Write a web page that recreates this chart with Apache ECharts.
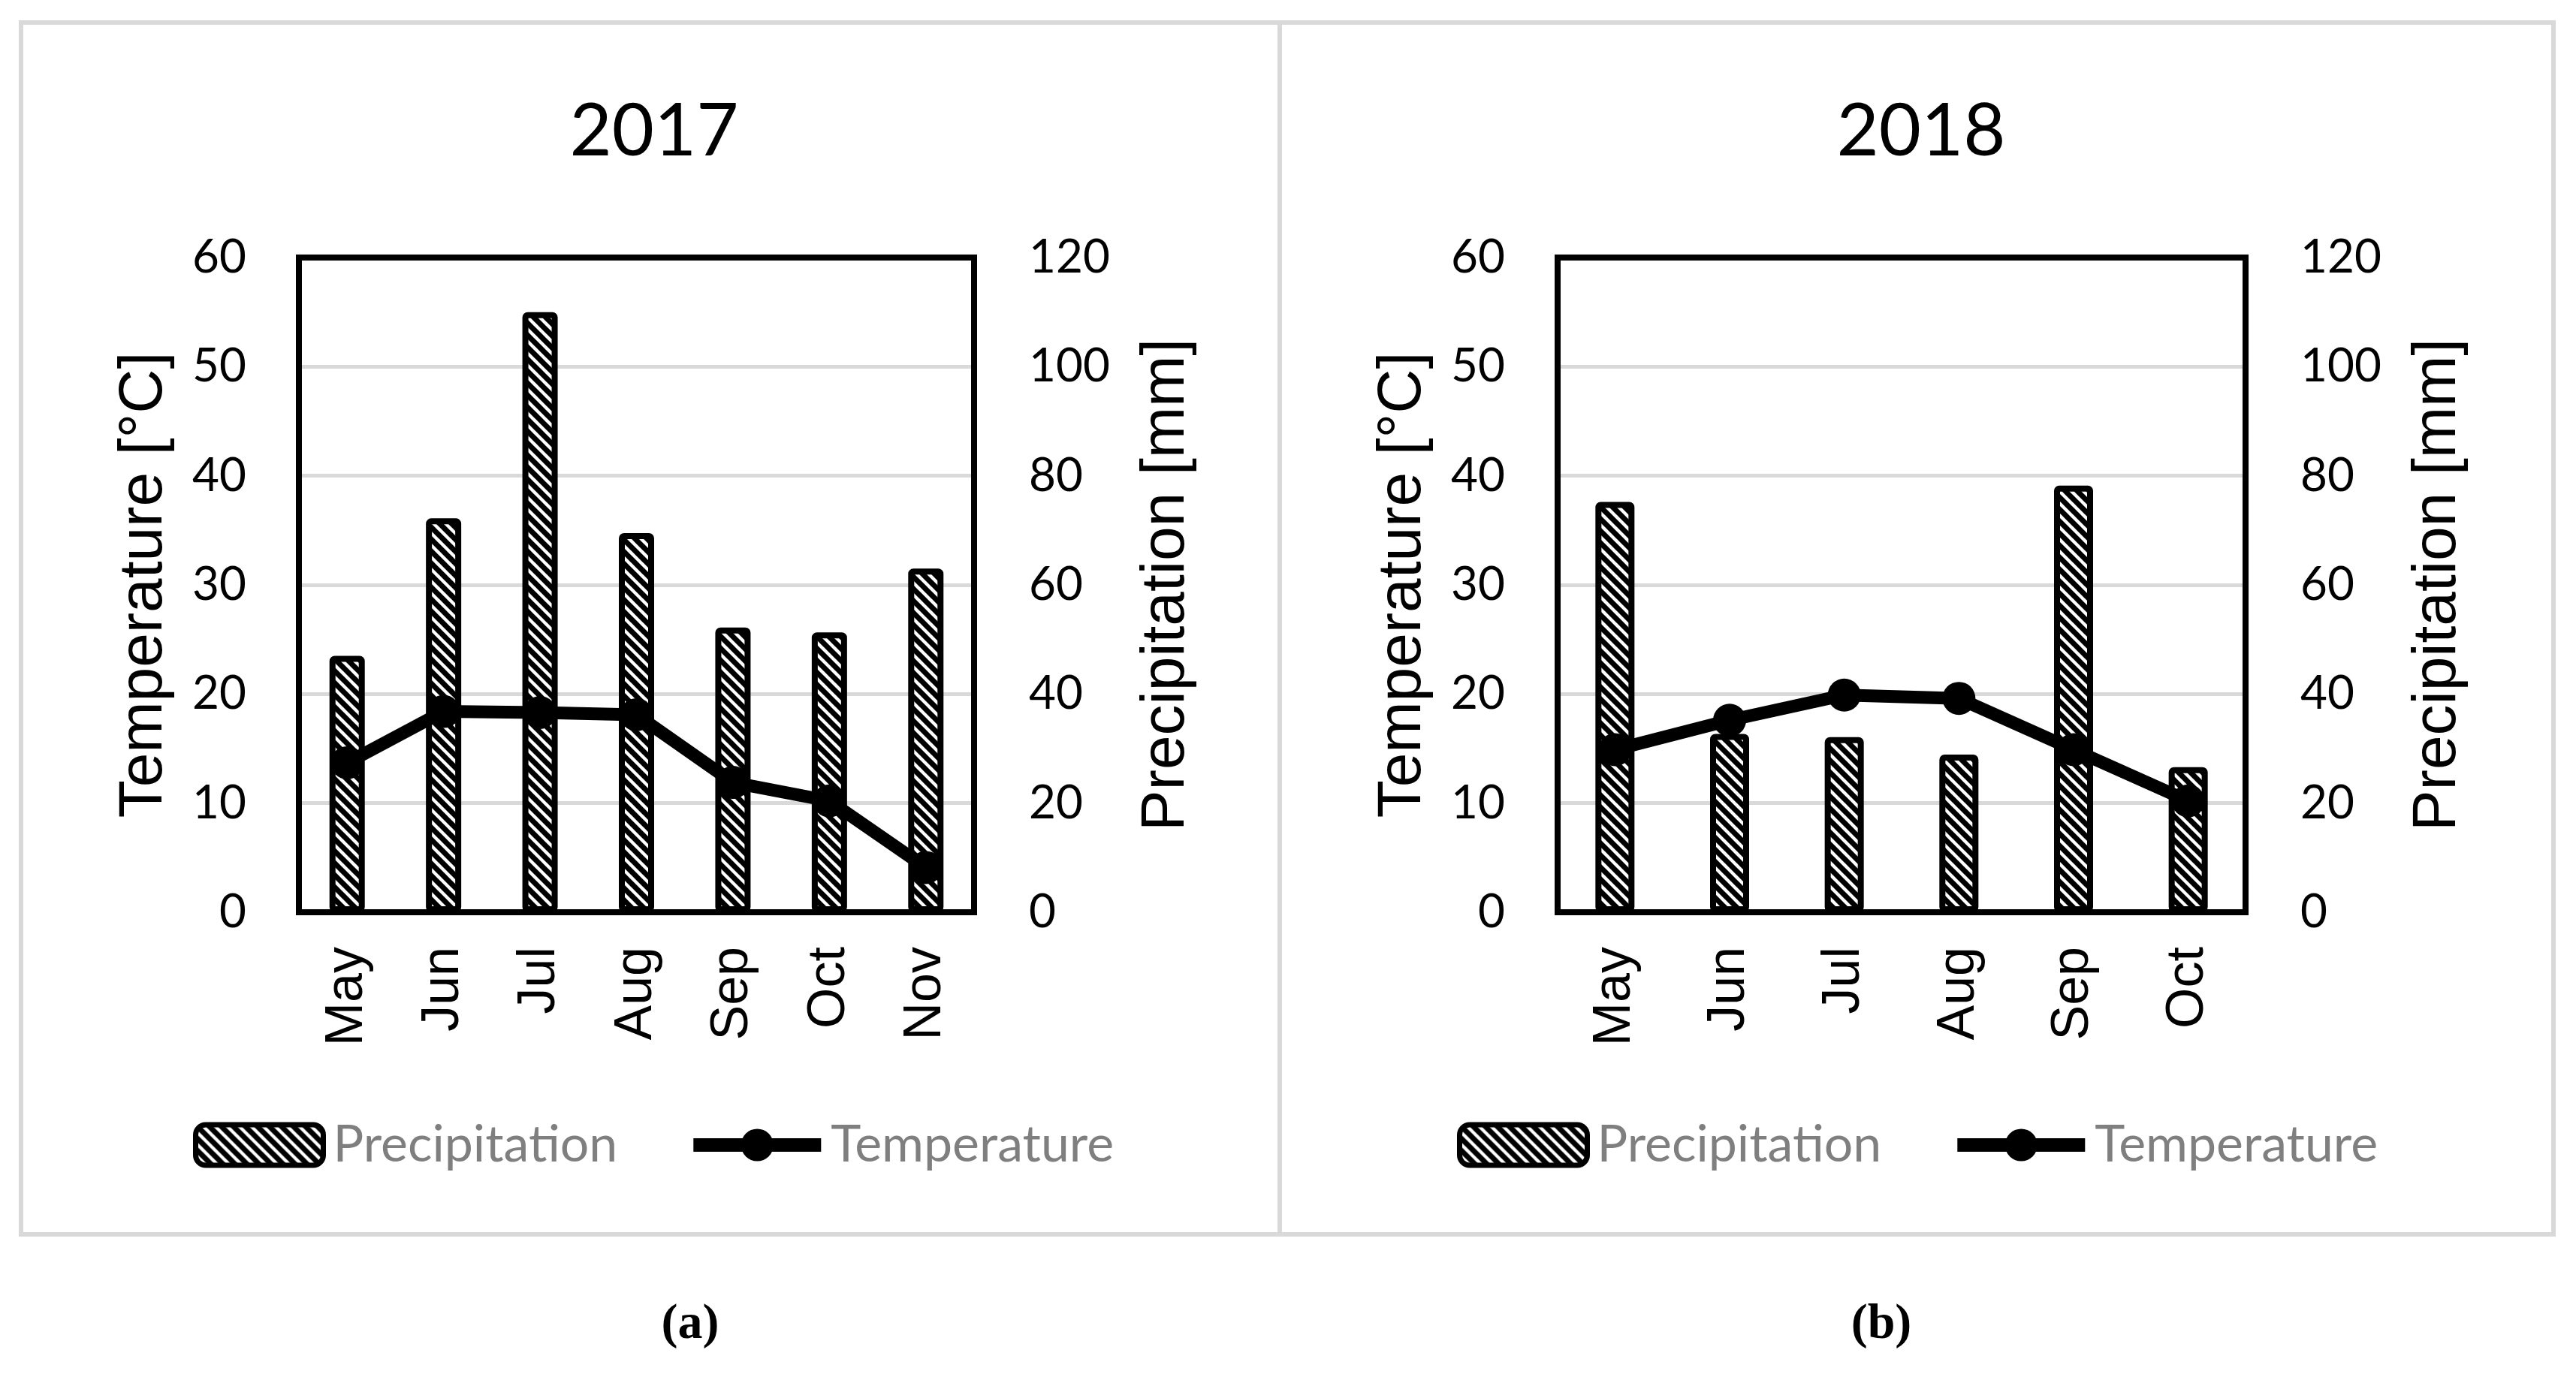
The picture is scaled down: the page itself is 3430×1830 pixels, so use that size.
<!DOCTYPE html>
<html>
<head>
<meta charset="utf-8">
<script src="https://cdn.jsdelivr.net/npm/echarts@6/dist/echarts.min.js"></script>
<style>
    html, body { margin: 0; padding: 0; background: #fff; }
    #main { width: 3430px; height: 1830px; }
</style>
</head>
<body>
<div id="main"></div>
<script>
// data
var months2017 = ['May', 'Jun', 'Jul', 'Aug', 'Sep', 'Oct', 'Nov'];
var precip2017 = [47.0, 72.2, 110.0, 69.5, 52.2, 51.3, 63.0];
var temp2017 = [13.7, 18.4, 18.3, 18.1, 11.9, 10.2, 4.1];

var months2018 = ['May', 'Jun', 'Jul', 'Aug', 'Sep', 'Oct'];
var precip2018 = [75.2, 32.7, 32.1, 28.9, 78.2, 26.6];
var temp2018 = [14.9, 17.6, 19.9, 19.6, 14.9, 10.2];

var tempTicks = [0, 60, 10];
var precipTicks = [0, 120, 20];

// wide downward diagonal hatch, like the excel fill
function hatch() {
    var c = document.createElement('canvas');
    c.width = 16;
    c.height = 16;
    var g = c.getContext('2d');
    g.fillStyle = '#fff';
    g.fillRect(0, 0, 16, 16);
    g.strokeStyle = '#000';
    g.lineWidth = 7;
    [-16, 0, 16].forEach(function (k) {
        g.beginPath();
        g.moveTo(k - 4, -4);
        g.lineTo(k + 20, 20);
        g.stroke();
    });
    return c;
}
var pattern = {image: hatch(), repeat: 'repeat'};

// tiny stand-in for jquery extend, keeps the axis code short
var $ = {
    extend: function (a, b) {
        for (var k in b) a[k] = b[k];
        return a;
    }
};

var tickFont = {fontFamily: 'Lato', fontSize: 62, color: '#000'};
var nameFont = {fontFamily: 'Liberation Sans', fontSize: 82, color: '#000'};

function xAxis(idx, months) {
    return {
        gridIndex: idx,
        type: 'category',
        data: months,
        axisTick: {show: false},
        axisLine: {show: false},
        axisLabel: {rotate: 90, margin: 46, fontFamily: 'Liberation Sans', fontSize: 70, color: '#000'}
    };
}

function yAxes(idx) {
    return [{
        gridIndex: idx,
        type: 'value',
        position: 'left',
        min: tempTicks[0], max: tempTicks[1], interval: tempTicks[2],
        name: 'Temperature [°C]',
        nameLocation: 'middle',
        nameRotate: 90,
        nameGap: 165,
        nameTextStyle: nameFont,
        axisLine: {show: false},
        axisTick: {show: false},
        axisLabel: $.extend({margin: 70}, tickFont),
        splitLine: {lineStyle: {color: '#d9d9d9', width: 5}}
    }, {
        gridIndex: idx,
        type: 'value',
        position: 'right',
        min: precipTicks[0], max: precipTicks[1], interval: precipTicks[2],
        name: 'Precipitation [mm]',
        nameLocation: 'middle',
        nameRotate: 90,
        nameGap: 215,
        nameTextStyle: nameFont,
        axisLine: {show: false},
        axisTick: {show: false},
        axisLabel: $.extend({margin: 73}, tickFont),
        splitLine: {show: false}
    }];
}

function barSeries(idx, data, width) {
    return {
        name: 'Precipitation',
        type: 'bar',
        xAxisIndex: idx,
        yAxisIndex: idx * 2 + 1,
        data: data,
        barWidth: width,
        itemStyle: {color: pattern, borderColor: '#000', borderWidth: 8, borderRadius: 3},
        z: 2
    };
}

function lineSeries(idx, data) {
    return {
        name: 'Temperature',
        type: 'line',
        xAxisIndex: idx,
        yAxisIndex: idx * 2,
        data: data,
        symbol: 'circle',
        symbolSize: 44,
        lineStyle: {color: '#000', width: 17},
        itemStyle: {color: '#000'},
        z: 3
    };
}

function legend(left) {
    return {
        left: left,
        top: 1486,
        itemWidth: 170,
        itemHeight: 54,
        itemGap: 92,
        lineStyle: {width: 18},
        itemStyle: {borderWidth: 7},
        textStyle: {fontFamily: 'Lato', fontSize: 68, color: '#7f7f7f', padding: [0, 0, 0, 8]},
        data: ['Precipitation', 'Temperature']
    };
}

var chart = echarts.init(document.getElementById('main'));
var option = {
    backgroundColor: '#fff',
    animation: false,
    title: [{
        text: '2017', left: 866, top: 122, textAlign: 'center',
        textStyle: {fontFamily: 'Lato', fontSize: 97, fontWeight: 'normal', color: '#000'}
    }, {
        text: '2018', left: 2553, top: 122, textAlign: 'center',
        textStyle: {fontFamily: 'Lato', fontSize: 97, fontWeight: 'normal', color: '#000'}
    }],
    legend: [legend(252), legend(1935)],
    grid: [
        {left: 398, top: 343, width: 899, height: 872, show: true, borderColor: '#000', borderWidth: 8, z: 4},
        {left: 2074, top: 343, width: 916, height: 872, show: true, borderColor: '#000', borderWidth: 8, z: 4}
    ],
    xAxis: [xAxis(0, months2017), xAxis(1, months2018)],
    yAxis: yAxes(0).concat(yAxes(1)),
    series: [
        barSeries(0, precip2017, 47),
        lineSeries(0, temp2017),
        barSeries(1, precip2018, 52),
        lineSeries(1, temp2018)
    ],
    graphic: [
        {type: 'rect', shape: {x: 28, y: 30, width: 1676, height: 1614}, style: {fill: null, stroke: '#d9d9d9', lineWidth: 6}},
        {type: 'rect', shape: {x: 1704, y: 30, width: 1696, height: 1614}, style: {fill: null, stroke: '#d9d9d9', lineWidth: 6}},
        {type: 'text', x: 919, y: 1765, style: {text: '(a)', font: 'bold 66px "Liberation Serif"', fill: '#000', align: 'center', verticalAlign: 'middle'}},
        {type: 'text', x: 2505, y: 1765, style: {text: '(b)', font: 'bold 66px "Liberation Serif"', fill: '#000', align: 'center', verticalAlign: 'middle'}}
    ]
};
chart.setOption(option);
</script>
</body>
</html>
